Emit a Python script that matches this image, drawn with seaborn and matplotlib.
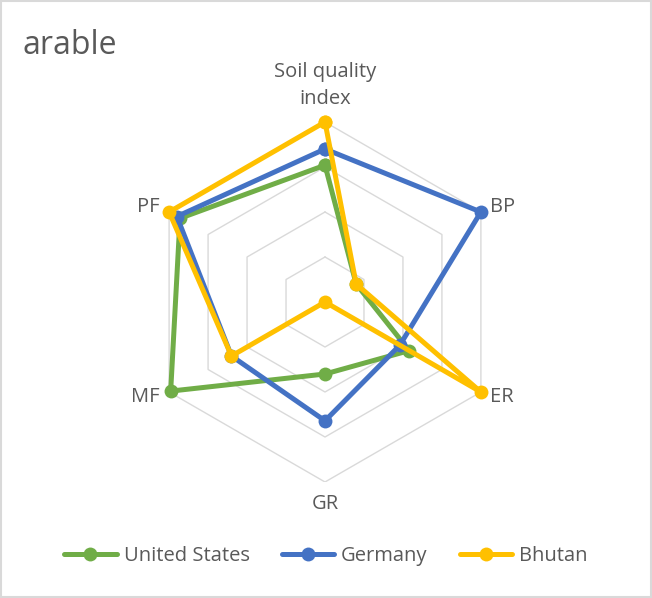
import numpy as np
import pandas as pd
import matplotlib
matplotlib.use("Agg")
import matplotlib.pyplot as plt
import seaborn as sns
from matplotlib.patches import Rectangle

# ---- data ----
categories = ["Soil quality\nindex", "BP", "ER", "GR", "MF", "PF"]
countries = ["United States", "Germany", "Bhutan"]
us_values = [76, 20, 54, 40, 99, 93]
germany_values = [85, 100, 48, 66, 60, 95]
bhutan_values = [100, 20, 100, 0, 60, 100]
title_text = "arable"

palette = {"United States": "#70AD47", "Germany": "#4472C4", "Bhutan": "#FFC000"}
text_color = "#595959"
grid_color = "#D9D9D9"

sns.set_theme(style="white")
plt.rcParams["font.family"] = ["Open Sans", "DejaVu Sans"]

n = len(categories)
angles = np.linspace(0, 2 * np.pi, n, endpoint=False)

rows = []
for name, vals in zip(countries, [us_values, germany_values, bhutan_values]):
    for i in range(n + 1):
        k = i % n
        theta = angles[k] if i < n else 2 * np.pi
        rows.append({"country": name, "theta": theta, "value": vals[k], "order": i})
df = pd.DataFrame(rows)

W, H = 652, 598
fig = plt.figure(figsize=(W / 100, H / 100), dpi=100)
cx, cy, R = 325, 302, 180
ax = fig.add_axes([(cx - R) / W, (H - cy - R) / H, 2 * R / W, 2 * R / H], projection="polar")
ax.set_theta_offset(np.pi / 2)
ax.set_theta_direction(-1)
ax.set_ylim(0, 100)
ax.grid(False)
ax.set_xticks([])
ax.set_yticks([])
ax.spines["polar"].set_visible(False)
ax.set_facecolor("none")

# hexagonal grid rings
ring_levels = [25, 50, 75, 100]
for lv in ring_levels:
    ax.plot(np.append(angles, angles[0]), [lv] * (n + 1), color=grid_color, lw=1.0, zorder=1)

sns.lineplot(data=df, x="theta", y="value", hue="country", hue_order=countries,
             palette=palette, sort=False, estimator=None, units="country",
             marker="o", markersize=10, markeredgewidth=0, linewidth=3.6,
             ax=ax, zorder=3, clip_on=False)
ax.set_xlabel("")
ax.set_ylabel("")
ax.set_ylim(0, 100)

# category labels
label_specs = [
    (0, 107, "center", "bottom"),
    (1, 106, "left", "center"),
    (2, 106, "left", "center"),
    (3, 112, "center", "center"),
    (4, 106, "right", "center"),
    (5, 106, "right", "center"),
]
for idx, r, ha, va in label_specs:
    ax.text(angles[idx], r, categories[idx], ha=ha, va=va, fontsize=14.5,
            color=text_color, linespacing=1.5, clip_on=False)

# legend
handles, labels = ax.get_legend_handles_labels()
if ax.get_legend() is not None:
    ax.get_legend().remove()
fig.legend(handles, labels, loc="center", bbox_to_anchor=(0.5, 1 - 556 / H), ncol=3,
           frameon=False, handlelength=2.6, handletextpad=0.35, columnspacing=1.6,
           fontsize=14.5, labelcolor=text_color)

fig.text(23 / W, 1 - 45 / H, title_text, ha="left", va="center", fontsize=23, color=text_color)

fig.patches.append(Rectangle((0.002, 0.002), 0.996, 0.996, transform=fig.transFigure,
                             fill=False, edgecolor=grid_color, lw=1.5))

fig.savefig("out.png", dpi=100, facecolor="white")
